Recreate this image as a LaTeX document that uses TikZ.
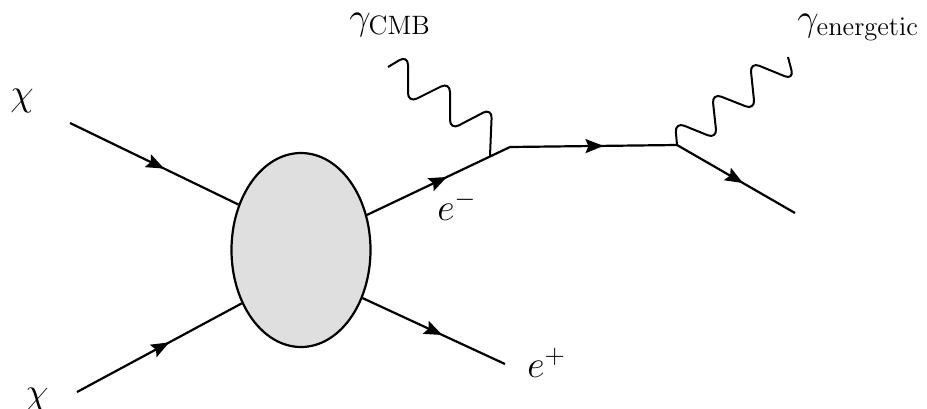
\RequirePackage{fix-cm}
\documentclass[tikz,border=0pt]{standalone}
\usepackage{amsmath}
\usetikzlibrary{arrows.meta,decorations.markings,calc,shapes.geometric}

\begin{document}
\begin{tikzpicture}[x=0.5pt,y=-0.5pt,
    font=\fontsize{19}{23}\selectfont,
    fermion/.style={line width=1.1pt,postaction={decorate},
        decoration={markings,mark=at position 0.56 with {\arrow{Stealth[length=9pt,width=7pt,inset=1.5pt]}}}},
    photon/.style={line width=1pt,rounded corners=5pt},
    blob/.style={ellipse,draw,line width=1.1pt,fill=gray!25,
        minimum width=69.5pt,minimum height=97pt,inner sep=0pt},
    lbl/.style={inner sep=0pt}]
    \useasboundingbox (0,0) rectangle (927,408);

    % annihilation blob
    \node[blob] (blob) at (301,250) {};

    % incoming chi pair
    \node[lbl,anchor=base] (chiA) at (22,105) {$\chi$};
    \node[lbl,anchor=base] (chiB) at (37,404) {$\chi$};
    \coordinate (inA) at (70,123);
    \coordinate (inB) at (77,392);
    \draw[fermion] (inA) -- (blob.144);
    \draw[fermion] (inB) -- (blob.222);

    % outgoing e- and e+
    \coordinate (kink) at (510,147);
    \coordinate (outP) at (505,364);
    \draw[fermion] (blob.28) -- (kink);
    \draw[fermion] (blob.322) -- (outP);
    \node[lbl,anchor=base west] (eminus) at (437,220) {$e^-$};
    \node[lbl,anchor=base west] (eplus) at (527,377) {$e^+$};

    % CMB photon hits the electron
    \coordinate (vA) at ($(blob.28)!0.86!(kink)$);
    \coordinate (gA) at (388,67);
    \draw[photon] (gA) -- ++(20,-12) -- ++(0,48) -- ++(42,-21) -- ++(0,48)
        -- ++(42,-22) -- (vA);
    \node[lbl,anchor=base west] (gAlbl) at (349,29) {$\gamma_{\mathrm{CMB}}$};

    % boosted electron emits the energetic photon
    \coordinate (vB) at (677,145);
    \coordinate (outE) at (795,213);
    \coordinate (gB) at (788,57);
    \draw[fermion] (kink) -- (vB);
    \draw[fermion] (vB) -- (outE);
    \draw[photon] (vB) -- ++(-2,-23) -- ++(42,17) -- ++(-5,-46) -- ++(43,17)
        -- ++(-5,-48) -- ++(44,18) -- (gB);
    \node[lbl,anchor=base west] (gBlbl) at (797,30) {$\gamma_{\mathrm{energetic}}$};
\end{tikzpicture}
\end{document}
